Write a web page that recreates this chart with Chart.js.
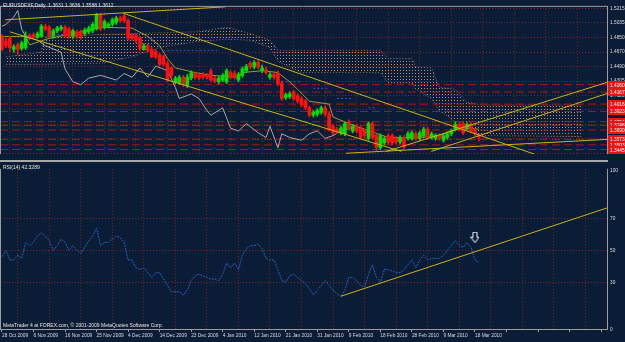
<!DOCTYPE html>
<html>
<head>
<meta charset="utf-8">
<script src="https://cdn.jsdelivr.net/npm/chart.js@4.4.1/dist/chart.umd.min.js"></script>
<style>
  html, body { margin: 0; padding: 0; background: #0b1c36; }
  #wrap { position: relative; width: 625px; height: 342px; overflow: hidden; background: #0b1c36; font-family: "Liberation Sans", Arial, sans-serif; }
  #main { position: absolute; left: 0; top: 0; }
  #rsi { position: absolute; left: 0; top: 163px; }
  #sep { position: absolute; left: 0; top: 160px; width: 608px; height: 2px; background: #a9a9a9; }
  .lbl { position: absolute; color: #e4e4e4; font-size: 5px; white-space: nowrap; line-height: 1; }
</style>
</head>
<body>
<div id="wrap">
  <canvas id="main" width="625" height="160"></canvas>
  <div id="sep"></div>
  <canvas id="rsi" width="625" height="179"></canvas>
  <div class="lbl" style="left:3px;top:3px">EURUSDFXF,Daily&nbsp; 1.3631 1.3636 1.3588 1.3612</div>
  <div class="lbl" style="left:3px;top:165px">RSI(14) 42.3289</div>
  <div class="lbl" style="left:3px;top:323px">MetaTrader 4 at FOREX.com, © 2001-2009 MetaQuotes Software Corp.</div>
</div>
<script>
// ---- axis labels ----
const dateLabels = ["28 Oct 2009", "6 Nov 2009", "16 Nov 2009", "25 Nov 2009", "4 Dec 2009", "14 Dec 2009",
  "23 Dec 2009", "4 Jan 2010", "12 Jan 2010", "21 Jan 2010", "31 Jan 2010", "9 Feb 2010",
  "18 Feb 2010", "28 Feb 2010", "9 Mar 2010", "18 Mar 2010"];
const priceTicks = [1.5215, 1.5035, 1.4850, 1.4670, 1.4490, 1.4305, 1.4125, 1.3945, 1.3760, 1.3580, 1.3400];
const rsiTicks = [0, 30, 50, 70, 100];

// ---- daily candles (one per bar, bar 0 = 28 Oct 2009) ----
const open = [1.4866,1.4807,1.4842,1.4703,1.4761,1.4714,1.4726,1.4877,1.4889,1.4854,
  1.4866,1.4994,1.4982,1.4866,1.4936,1.4959,1.4982,1.4959,1.4866,1.4924,
  1.4924,1.4901,1.4924,1.4936,1.4959,1.5134,1.4982,1.4994,1.5017,1.5040,
  1.5099,1.5122,1.5064,1.4877,1.4877,1.4842,1.4714,1.4749,1.4703,1.4679,
  1.4633,1.4610,1.4528,1.4470,1.4295,1.4283,1.4353,1.4249,1.4342,1.4400,
  1.4377,1.4388,1.4377,1.4435,1.4342,1.4295,1.4318,1.4295,1.4412,1.4400,
  1.4318,1.4377,1.4435,1.4528,1.4481,1.4540,1.4435,1.4446,1.4353,1.4388,
  1.4400,1.4272,1.4097,1.4109,1.4167,1.4120,1.4086,1.4051,1.3969,1.3876,
  1.3888,1.3911,1.3969,1.3888,1.3736,1.3701,1.3655,1.3643,1.3794,1.3678,
  1.3736,1.3713,1.3678,1.3585,1.3771,1.3620,1.3468,1.3527,1.3620,1.3620,
  1.3585,1.3538,1.3596,1.3585,1.3585,1.3643,1.3585,1.3620,1.3701,1.3596,
  1.3585,1.3620,1.3561,1.3596,1.3643,1.3701,1.3760,1.3771,1.3713,1.3760,
  1.3678,1.3620];
const high = [1.4889,1.4842,1.4866,1.4761,1.4784,1.4807,1.4924,1.4901,1.4912,1.4924,
  1.5017,1.5017,1.5005,1.4959,1.4994,1.5005,1.5005,1.4982,1.4959,1.4947,
  1.4947,1.4971,1.4994,1.5040,1.5157,1.5157,1.5075,1.5040,1.5099,1.5122,
  1.5122,1.5145,1.5087,1.4901,1.4901,1.4866,1.4773,1.4773,1.4726,1.4703,
  1.4656,1.4633,1.4551,1.4493,1.4365,1.4377,1.4377,1.4388,1.4435,1.4412,
  1.4400,1.4412,1.4400,1.4458,1.4365,1.4365,1.4400,1.4458,1.4435,1.4435,
  1.4412,1.4481,1.4516,1.4551,1.4563,1.4563,1.4505,1.4481,1.4412,1.4412,
  1.4435,1.4307,1.4155,1.4167,1.4190,1.4144,1.4109,1.4074,1.3992,1.3934,
  1.3957,1.3992,1.3992,1.3911,1.3760,1.3725,1.3736,1.3794,1.3818,1.3760,
  1.3760,1.3736,1.3701,1.3794,1.3794,1.3643,1.3643,1.3608,1.3643,1.3643,
  1.3608,1.3620,1.3620,1.3666,1.3678,1.3666,1.3678,1.3725,1.3725,1.3666,
  1.3643,1.3643,1.3643,1.3666,1.3701,1.3794,1.3783,1.3794,1.3783,1.3783,
  1.3701,1.3643];
const low = [1.4691,1.4726,1.4679,1.4668,1.4644,1.4691,1.4703,1.4819,1.4831,1.4842,
  1.4854,1.4936,1.4854,1.4842,1.4912,1.4936,1.4854,1.4842,1.4842,1.4842,
  1.4831,1.4877,1.4901,1.4912,1.4947,1.4936,1.4959,1.4971,1.4994,1.5017,
  1.5040,1.5040,1.4819,1.4819,1.4784,1.4691,1.4691,1.4668,1.4598,1.4586,
  1.4493,1.4493,1.4295,1.4342,1.4272,1.4260,1.4237,1.4225,1.4318,1.4330,
  1.4318,1.4330,1.4330,1.4295,1.4283,1.4272,1.4295,1.4272,1.4330,1.4330,
  1.4295,1.4353,1.4412,1.4458,1.4458,1.4458,1.4412,1.4388,1.4330,1.4330,
  1.4249,1.4062,1.4074,1.4086,1.4062,1.4027,1.3981,1.3946,1.3853,1.3853,
  1.3864,1.3888,1.3864,1.3678,1.3631,1.3643,1.3631,1.3620,1.3690,1.3655,
  1.3655,1.3573,1.3585,1.3561,1.3573,1.3433,1.3445,1.3503,1.3515,1.3503,
  1.3515,1.3515,1.3457,1.3561,1.3561,1.3561,1.3561,1.3596,1.3573,1.3573,
  1.3561,1.3561,1.3538,1.3573,1.3620,1.3678,1.3678,1.3631,1.3690,1.3655,
  1.3620,1.3550];
const close = [1.4703,1.4749,1.4726,1.4738,1.4703,1.4784,1.4877,1.4842,1.4842,1.4901,
  1.4994,1.4959,1.4866,1.4936,1.4971,1.4982,1.4877,1.4866,1.4936,1.4866,
  1.4866,1.4947,1.4971,1.5017,1.5134,1.4959,1.5052,1.5017,1.5075,1.5099,
  1.5064,1.5064,1.4842,1.4842,1.4819,1.4714,1.4749,1.4691,1.4610,1.4610,
  1.4516,1.4516,1.4318,1.4377,1.4342,1.4353,1.4260,1.4353,1.4412,1.4353,
  1.4342,1.4353,1.4353,1.4318,1.4307,1.4342,1.4377,1.4435,1.4353,1.4353,
  1.4388,1.4458,1.4493,1.4481,1.4540,1.4481,1.4470,1.4412,1.4388,1.4353,
  1.4272,1.4086,1.4132,1.4144,1.4086,1.4051,1.4004,1.3969,1.3876,1.3911,
  1.3934,1.3969,1.3888,1.3701,1.3655,1.3666,1.3713,1.3771,1.3713,1.3736,
  1.3678,1.3596,1.3620,1.3771,1.3596,1.3468,1.3620,1.3585,1.3538,1.3527,
  1.3538,1.3596,1.3480,1.3643,1.3655,1.3585,1.3655,1.3701,1.3596,1.3643,
  1.3620,1.3585,1.3620,1.3643,1.3678,1.3760,1.3701,1.3655,1.3760,1.3678,
  1.3643,1.3608];

// ---- RSI(14), one value per bar ----
const rsi = [46,50,44,44,47,45,55,53,55,59,
  61,59,56,50,53,57,55,50,53,50,
  48,52,56,59,64,53,55,55,57,59,
  58,55,44,44,39,38,39,36,33,36,
  36,32,28,24,24,24,22,25,31,34,
  35,34,33,32,32,31,35,42,39,42,
  38,47,51,53,53,54,51,45,44,44,
  38,31,30,34,35,33,31,29,26,22,
  25,28,31,28,25,23,21,25,33,33,
  31,28,27,35,41,33,30,38,38,37,
  36,36,38,41,44,39,44,47,44,45,
  45,45,47,50,53,56,53,52,55,52,
  44,42.3];

// ---- Ichimoku parts ----
const cloudX = [1, 10, 11, 25, 33, 40, 50, 57, 63, 68, 70, 76, 96, 98, 104, 105, 109, 111, 115, 118, 122, 147];
const spanA = [1.4610,1.4668,1.4866,1.4889,1.4901,1.4912,1.4924,1.4982,1.4901,1.4819,1.4691,
  1.4691,1.4691,1.4586,1.4586,1.4481,1.4470,1.4225,1.4202,1.4039,1.4004,1.4004];
const spanB = [1.4516,1.4516,1.4516,1.4528,1.4610,1.4726,1.4807,1.4831,1.4819,1.4726,1.4551,
  1.4412,1.4412,1.4283,1.4283,1.4202,1.4086,1.3934,1.3794,1.3678,1.3620,1.3608];
const chikouX = [0,1,3,4,5,6,9,11,15,16,18,20,22,25,29,31,33,35,37,39,42,44,45,48,50,52,53,56,58,60,
  62,65,67,68,70,71,73,76,78,80,82,84,86,90,93,95];
const chikou = [1.4994,1.5017,1.5110,1.5192,1.4959,1.4866,1.4819,1.4749,1.4668,1.4458,1.4295,1.4260,
  1.4342,1.4377,1.4318,1.4400,1.4353,1.4470,1.4353,1.4493,1.4435,1.4225,1.4086,1.4144,1.4086,1.3934,
  1.3876,1.3969,1.3713,1.3678,1.3771,1.3655,1.3596,1.3736,1.3468,1.3643,1.3596,1.3561,1.3643,1.3678,
  1.3585,1.3620,1.3678,1.3736,1.3643,1.3608];
const tenkanX = [0,6,7,12,20,25,33,37,40,42,44,49,53,60,61,66,70,73,75,78,83,84,88,98,106,111,116,121];
const tenkan = [1.4866,1.4866,1.4761,1.4842,1.4924,1.4982,1.4971,1.4866,1.4749,1.4586,1.4470,1.4412,
  1.4377,1.4353,1.4412,1.4435,1.4412,1.4295,1.4202,1.4051,1.4016,1.3853,1.3771,1.3596,1.3596,1.3620,
  1.3713,1.3701];
const kijunFrom = [13, 41, 71, 79, 85, 93];
const kijunTo = [17, 55, 76, 83, 89, 95];
const kijunLevel = [1.4889, 1.4691, 1.4295, 1.4214, 1.4086, 1.3969];

// ---- horizontal levels and trend lines ----
const levels = [1.4260, 1.4167, 1.4016, 1.3923, 1.3794, 1.3748, 1.3690, 1.3573, 1.3503, 1.3445];
const trendFrom = [[0.8, 1.5075], [30.8, 1.5157], [2, 1.4924], [97.5, 1.3421], [108.9, 1.3421], [87.3, 1.3398]];
const trendTo = [[56.7, 1.5238], [135.1, 1.3387], [101.3, 1.3421], [153.9, 1.4295], [153.9, 1.4155], [153.9, 1.3573]];
const rsiTrend = [[86, 21.2], [153.9, 77]];
const rsiArrow = [{ x: 120, y: 58 }];

// ---- styles ----
const BG = '#0b1c36';
const GRID = '#7a2424';
const TXT = '#dcdcdc';
const FRAME = '#9c9c9c';
const UP = '#00e000';
const DOWN = '#ff1010';
const TREND = '#c8b414';
const FONT = { family: 'Liberation Sans', size: 4.8 };

Chart.defaults.font.family = 'Liberation Sans';
Chart.defaults.color = TXT;

const gridSteps = [];
for (let v = 0; v <= 152; v += 4) gridSteps.push(v);

// sparse dotted hatch like the MT4 cloud
function hatch(canvasId, color) {
  const c = document.createElement('canvas');
  c.width = 3; c.height = 3;
  const g = c.getContext('2d');
  g.fillStyle = color;
  g.fillRect(1, 1, 1, 1);
  return document.getElementById(canvasId).getContext('2d').createPattern(c, 'repeat');
}

function arrowIcon() {
  const c = document.createElement('canvas');
  c.width = 9; c.height = 12;
  const g = c.getContext('2d');
  g.fillStyle = BG;
  g.strokeStyle = '#ffffff';
  g.lineWidth = 1;
  g.beginPath();
  g.moveTo(2.5, 0.5); g.lineTo(6.5, 0.5); g.lineTo(6.5, 5.5); g.lineTo(8.5, 5.5);
  g.lineTo(4.5, 11); g.lineTo(0.5, 5.5); g.lineTo(2.5, 5.5); g.closePath();
  g.fill(); g.stroke();
  return c;
}

const frame = {
  id: 'frame',
  afterDraw(chart, args, opts) {
    const { ctx, chartArea: a } = chart;
    ctx.save();
    ctx.strokeStyle = FRAME;
    ctx.lineWidth = 1;
    ctx.beginPath();
    if (opts.top) { ctx.moveTo(0, a.top + 0.5); ctx.lineTo(a.right, a.top + 0.5); }
    ctx.moveTo(a.left + 0.5, a.top); ctx.lineTo(a.left + 0.5, a.bottom);
    ctx.moveTo(a.right + 0.5, a.top); ctx.lineTo(a.right + 0.5, a.bottom);
    if (opts.bottom) { ctx.moveTo(0, a.bottom - 0.5); ctx.lineTo(a.right + 1, a.bottom - 0.5); }
    ctx.stroke();
    ctx.restore();
  }
};

// red price tags of the horizontal levels on the right axis
const levelTags = {
  id: 'levelTags',
  afterDraw(chart) {
    const { ctx, chartArea: a, scales } = chart;
    ctx.save();
    ctx.font = '4.8px "Liberation Sans"';
    ctx.textBaseline = 'middle';
    levels.forEach(p => {
      const y = Math.round(scales.y.getPixelForValue(p));
      ctx.fillStyle = '#e81414';
      ctx.fillRect(a.right + 1, y - 4, 18, 8);
      ctx.fillStyle = '#ffffff';
      ctx.fillText(p.toFixed(4), a.right + 3, y + 0.5);
    });
    ctx.restore();
  }
};

function flatLine(p) {
  return { type: 'line', data: [{ x: -0.5, y: p }, { x: 153.5, y: p }], borderColor: '#a81818',
    borderWidth: 1, borderDash: [8, 4], pointRadius: 0, order: 9 };
}

const kijunPts = [];
kijunFrom.forEach((f, k) => {
  kijunPts.push({ x: f, y: kijunLevel[k] }, { x: kijunTo[k], y: kijunLevel[k] }, { x: kijunTo[k] + 0.5, y: null });
});

const trendSets = trendFrom.map((f, k) => ({
  type: 'line', data: [{ x: f[0], y: f[1] }, { x: trendTo[k][0], y: trendTo[k][1] }],
  borderColor: TREND, borderWidth: 1, pointRadius: 0, order: 1
}));

const barColors = close.map((c, i) => c >= open[i] ? UP : DOWN);

new Chart(document.getElementById('main'), {
  type: 'bar',
  data: {
    datasets: [
      { type: 'line', data: cloudX.map((x, i) => ({ x, y: spanA[i] })), borderColor: 'rgba(190,150,130,0.7)', borderWidth: 1,
        borderDash: [1, 2], pointRadius: 0, fill: '+1', backgroundColor: hatch('main', '#b88e7c'), order: 12 },
      { type: 'line', data: cloudX.map((x, i) => ({ x, y: spanB[i] })), borderColor: 'rgba(190,150,130,0.7)', borderWidth: 1,
        borderDash: [1, 2], pointRadius: 0, fill: false, order: 12 },
      ...levels.map(flatLine),
      { type: 'line', data: chikouX.map((x, i) => ({ x, y: chikou[i] })), borderColor: '#a8a8a8', borderWidth: 1,
        pointRadius: 0, order: 8 },
      { type: 'line', data: tenkanX.map((x, i) => ({ x, y: tenkan[i] })), borderColor: '#9c9a34', borderWidth: 1,
        pointRadius: 0, order: 7 },
      { type: 'line', data: kijunPts, borderColor: '#3352c8', borderWidth: 1, borderDash: [2, 2],
        pointRadius: 0, spanGaps: false, order: 7 },
      { data: low.map((l, i) => ({ x: i, y: [l, high[i]] })), backgroundColor: barColors,
        barThickness: 1, grouped: false, order: 4 },
      { data: open.map((o, i) => ({ x: i, y: [o, close[i]] })), backgroundColor: barColors,
        barThickness: 3, minBarLength: 1, grouped: false, order: 3 },
      ...trendSets
    ]
  },
  options: {
    responsive: false, animation: false, devicePixelRatio: 1,
    layout: { padding: 0, autoPadding: false },
    plugins: { legend: { display: false }, tooltip: { enabled: false }, frame: { top: true, bottom: false } },
    scales: {
      x: {
        type: 'linear', min: -0.5, max: 153.5, offset: false,
        afterBuildTicks: s => { s.ticks = gridSteps.map(v => ({ value: v })); },
        ticks: { display: false },
        grid: { color: c => (c.tick && c.tick.value % 8 === 4) ? GRID : 'transparent', drawTicks: false },
        border: { display: false, dash: [1, 2] },
        afterFit: s => { s.height = 0; }
      },
      y: {
        position: 'right', min: 1.3387, max: 1.5250,
        afterBuildTicks: s => { s.ticks = priceTicks.map(v => ({ value: v })); },
        ticks: { color: TXT, font: FONT, padding: 3, callback: v => v.toFixed(4) },
        grid: { color: GRID, drawTicks: false },
        border: { display: false, dash: [1, 2] },
        afterFit: s => { s.width = 18; }
      }
    }
  },
  plugins: [frame, levelTags]
});

new Chart(document.getElementById('rsi'), {
  type: 'line',
  data: {
    datasets: [
      { data: rsiArrow, pointStyle: arrowIcon(), pointRadius: 5, showLine: false, order: 1 },
      { data: rsiTrend.map(p => ({ x: p[0], y: p[1] })), borderColor: TREND, borderWidth: 1, pointRadius: 0, order: 2 },
      { data: rsi.map((v, i) => ({ x: i, y: v })), borderColor: '#2a62b8', borderWidth: 1, borderDash: [2, 1],
        pointRadius: 0, order: 3 }
    ]
  },
  options: {
    responsive: false, animation: false, devicePixelRatio: 1,
    layout: { padding: 0, autoPadding: false },
    plugins: { legend: { display: false }, tooltip: { enabled: false }, frame: { top: false, bottom: true } },
    scales: {
      x: {
        type: 'linear', min: -0.5, max: 153.5, offset: false,
        afterBuildTicks: s => { s.ticks = gridSteps.map(v => ({ value: v })); },
        ticks: { color: TXT, font: FONT, align: 'start', maxRotation: 0, autoSkip: false, padding: 1,
          callback: v => (v % 8 === 0 && dateLabels[v / 8]) ? dateLabels[v / 8] : '' },
        grid: { color: c => (c.tick && c.tick.value % 8 === 4) ? GRID : 'transparent',
          tickColor: c => (c.tick && c.tick.value % 8 === 0) ? FRAME : 'transparent', tickLength: 2 },
        border: { display: false, dash: [1, 2] },
        afterFit: s => { s.height = 12; }
      },
      y: {
        position: 'right', min: 0, max: 101.2,
        afterBuildTicks: s => { s.ticks = rsiTicks.map(v => ({ value: v })); },
        ticks: { color: TXT, font: FONT, padding: 3 },
        grid: { color: c => (c.tick && c.tick.value > 0 && c.tick.value < 100) ? GRID : 'transparent', drawTicks: false },
        border: { display: false, dash: [1, 2] },
        afterFit: s => { s.width = 18; }
      }
    }
  },
  plugins: [frame]
});
</script>
</body>
</html>
